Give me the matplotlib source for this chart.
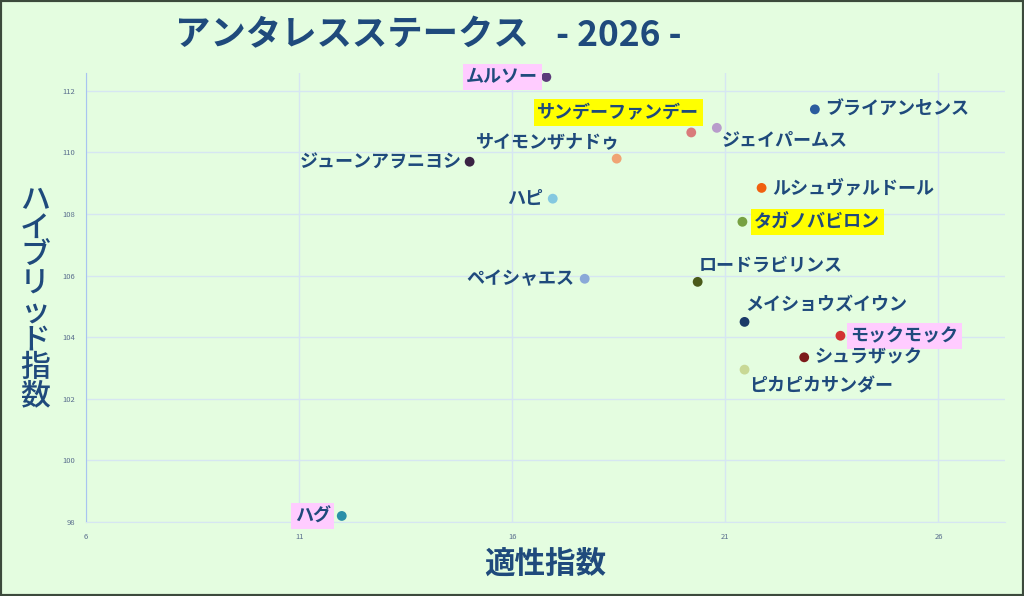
import matplotlib
matplotlib.use("Agg")
import matplotlib.pyplot as plt
from matplotlib.patches import Rectangle

plt.rcParams['font.family'] = ['Noto Sans CJK JP', 'DejaVu Sans']

# --- data ---
horses = ['ムルソー', 'ブライアンセンス', 'サンデーファンデー', 'ジェイパームス',
          'サイモンザナドゥ', 'ジューンアヲニヨシ', 'ハピ', 'ルシュヴァルドール',
          'タガノバビロン', 'ペイシャエス', 'ロードラビリンス', 'メイショウズイウン',
          'モックモック', 'シュラザック', 'ピカピカサンダー', 'ハグ']
tekisei = [16.8, 23.1, 20.2, 20.8, 18.45, 15.0, 16.95, 21.85,
           21.4, 17.7, 20.35, 21.45, 23.7, 22.85, 21.45, 12.0]
hybrid = [112.45, 111.4, 110.65, 110.8, 109.8, 109.7, 108.5, 108.85,
          107.75, 105.9, 105.8, 104.5, 104.05, 103.35, 102.95, 98.2]
colors = ['#5b3a7a', '#2b5c9e', '#d97b7b', '#b89ccb', '#f0a474', '#3a2344',
          '#84c8e0', '#f0600f', '#77a142', '#8aa9d8', '#4a5a1a', '#1b3a68',
          '#d23232', '#7c1a1a', '#c8d895', '#2a90a8']
pink = ['ムルソー', 'モックモック', 'ハグ']
yellow = ['サンデーファンデー', 'タガノバビロン']

# label placement: (dx px, dy px, ha)
place = {
    'ムルソー': (-8, 0, 'right'),
    'ブライアンセンス': (10, 0, 'left'),
    'サンデーファンデー': (8, 20, 'right'),
    'ジェイパームス': (5, -12, 'left'),
    'サイモンザナドゥ': (3, 17, 'right'),
    'ジューンアヲニヨシ': (-8, 0, 'right'),
    'ハピ': (-10, 0, 'right'),
    'ルシュヴァルドール': (11, 0, 'left'),
    'タガノバビロン': (12, 0, 'left'),
    'ペイシャエス': (-10, 0, 'right'),
    'ロードラビリンス': (1, 17, 'left'),
    'メイショウズイウン': (1, 18, 'left'),
    'モックモック': (10, 0, 'left'),
    'シュラザック': (10, 0, 'left'),
    'ピカピカサンダー': (5, -16, 'left'),
    'ハグ': (-11, 0, 'right'),
}

bg = '#e4fde0'
navy = '#1f4a7c'

fig = plt.figure(figsize=(10.24, 5.96), dpi=100, facecolor=bg)
fig.patches.append(Rectangle((0, 0), 1, 1, transform=fig.transFigure,
                             fill=False, edgecolor='#3c4a3c', linewidth=3))
ax = fig.add_axes([0.084, 0.124, 0.897, 0.7535])
ax.set_facecolor(bg)

ax.scatter(tekisei, hybrid, s=50, c=colors, zorder=3, edgecolors='none')

for name, x, y in zip(horses, tekisei, hybrid):
    dx, dy, ha = place[name]
    box = None
    if name in pink:
        box = dict(boxstyle='square,pad=0.2', fc='#ffccff', ec='none')
    elif name in yellow:
        box = dict(boxstyle='square,pad=0.2', fc='#ffff00', ec='none')
    ax.annotate(name, (x, y), xytext=(dx * 0.72, dy * 0.72),
                textcoords='offset points', ha=ha, va='center',
                fontsize=13, fontweight='bold', color=navy, bbox=box, zorder=4)

ax.set_xlim(6, 27.55)
ax.set_ylim(98, 112.58)
ax.set_xticks([6, 11, 16, 21, 26])
ax.set_yticks([98, 100, 102, 104, 106, 108, 110, 112])
ax.tick_params(length=0, labelsize=5.5, colors='#5a6e8e', pad=8)
ax.grid(True, color='#d6e6f2', linewidth=1)
ax.set_axisbelow(True)
for s in ['top', 'right']:
    ax.spines[s].set_visible(False)
ax.spines['left'].set_color('#a8c4f0')
ax.spines['bottom'].set_color('#d6e6f2')

fig.text(175 / 1024, 1 - 35 / 596, 'アンタレスステークス',
         ha='left', va='center', fontsize=25.5, fontweight='bold', color=navy)
fig.text(556 / 1024, 1 - 35 / 596, '- 2026 -',
         ha='left', va='center', fontsize=25.5, fontweight='bold', color=navy)
fig.text(545 / 1024, 1 - 564 / 596, '適性指数', ha='center', va='center',
         fontsize=22, fontweight='bold', color=navy)
fig.text(35 / 1024, 1 - 298 / 596, '\n'.join('ハイブリッド指数'), ha='center',
         va='center', fontsize=21.5, fontweight='medium', color=navy, linespacing=0.87)

fig.savefig('out.png', dpi=100, facecolor=bg)
